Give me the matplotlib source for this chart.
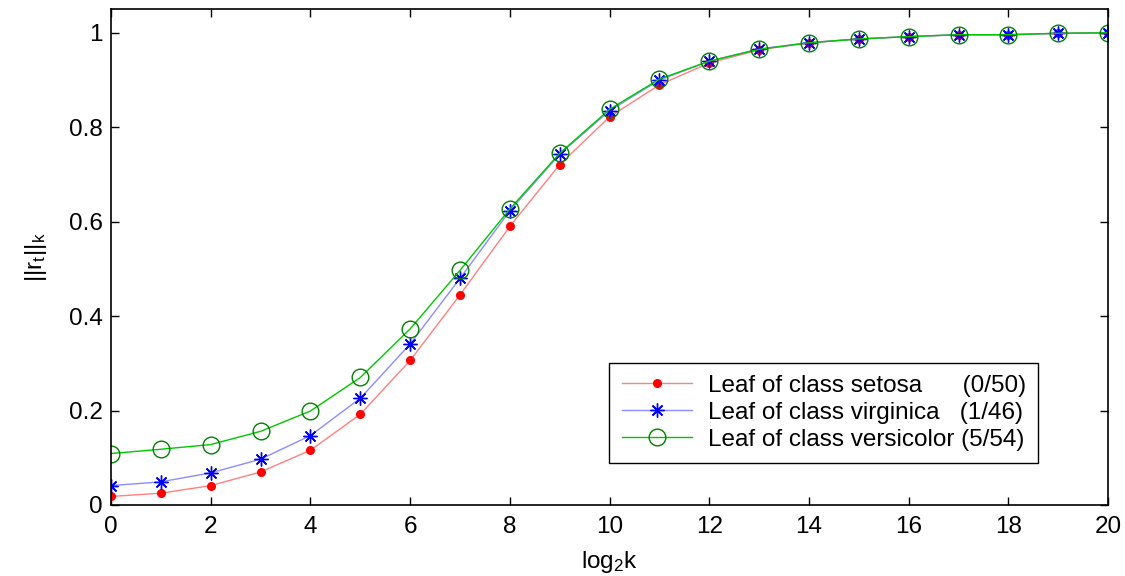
import matplotlib
matplotlib.use("Agg")
import matplotlib.pyplot as plt
import numpy as np

# datos
log2k = list(range(0, 21))
setosa = [0.018, 0.025, 0.041, 0.070, 0.116, 0.192, 0.306, 0.445, 0.590, 0.721,
          0.822, 0.890, 0.936, 0.964, 0.979, 0.987, 0.992, 0.996, 0.996, 0.999, 1.0]
virginica = [0.041, 0.049, 0.068, 0.097, 0.147, 0.226, 0.341, 0.480, 0.623, 0.743,
             0.835, 0.900, 0.940, 0.966, 0.979, 0.987, 0.992, 0.996, 0.996, 0.999, 1.0]
versicolor = [0.109, 0.118, 0.128, 0.156, 0.199, 0.270, 0.373, 0.497, 0.627, 0.745,
              0.838, 0.902, 0.940, 0.965, 0.979, 0.987, 0.992, 0.996, 0.996, 0.999, 1.0]
etiquetas = ["Leaf of class setosa      (0/50)",
             "Leaf of class virginica   (1/46)",
             "Leaf of class versicolor (5/54)"]
xticks = list(range(0, 21, 2))
yticks = [0, 0.2, 0.4, 0.6, 0.8, 1]

plt.rcParams['font.family'] = ['Liberation Sans', 'DejaVu Sans']
plt.rcParams['mathtext.fontset'] = 'custom'
plt.rcParams['mathtext.rm'] = 'Liberation Sans'
plt.rcParams['mathtext.it'] = 'Liberation Sans'

fs = 17.5
fig = plt.figure(figsize=(11.25, 5.76), dpi=100)
ax = fig.add_axes([0.0987, 0.1233, 0.8863, 0.8607])

ax.plot(log2k, setosa, marker='o', linestyle='-', color=(1, 0.5, 0.5), lw=1,
        markerfacecolor='red', markeredgecolor='red', markersize=5.5, label=etiquetas[0])
ax.plot(log2k, virginica, marker=(8, 2, 0), linestyle='-', color=(0.55, 0.55, 1), lw=1,
        markerfacecolor='blue', markeredgecolor='blue', markersize=10,
        markeredgewidth=1, label=etiquetas[1])
ax.plot(log2k, versicolor, marker='o', linestyle='-', color=(0, 0.78, 0), lw=1,
        markerfacecolor='none', markeredgecolor=(0, 0.5, 0), markersize=12,
        markeredgewidth=1, label=etiquetas[2])

ax.set_xlim(0, 20)
ax.set_ylim(0, 1.05)
ax.set_xticks(xticks)
ax.set_yticks(yticks)
ax.set_yticklabels(['0', '0.2', '0.4', '0.6', '0.8', '1'])
ax.tick_params(direction='in', top=True, right=True, length=6, width=1, labelsize=fs)
ax.tick_params(axis='x', pad=8)
ax.tick_params(axis='y', pad=6)
for s in ax.spines.values():
    s.set_linewidth(1.2)
ax.set_xlabel(r'log$_2$k', fontsize=fs, labelpad=8)
ax.set_ylabel(r'||r$_\mathrm{t}$||$_\mathrm{k}$', fontsize=fs, labelpad=14)

leg = ax.legend(loc='lower right', bbox_to_anchor=(0.930, 0.085), fontsize=fs, fancybox=False,
                framealpha=1, edgecolor='black', handlelength=2.9, borderpad=0.5,
                labelspacing=0.2, handletextpad=0.66, borderaxespad=0)
leg.get_frame().set_linewidth(1)

fig.savefig("out.png", dpi=100)
